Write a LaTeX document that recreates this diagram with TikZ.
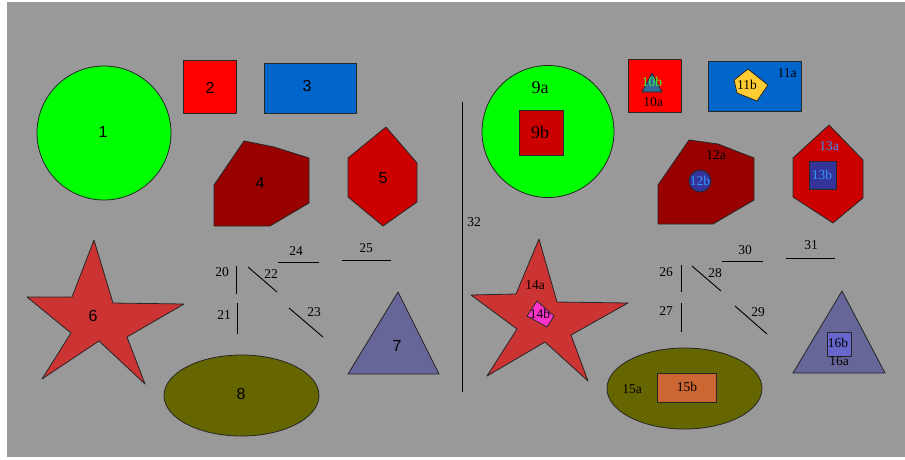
\documentclass[tikz,border=0pt]{standalone}
\usepackage{fontspec}
\setmainfont{Liberation Serif}
\newfontfamily\sansf{Liberation Sans}
\definecolor{bg}{HTML}{999999}
\definecolor{plime}{HTML}{00FF00}
\definecolor{pred}{HTML}{FF0000}
\definecolor{pblue}{HTML}{0066CC}
\definecolor{dred}{HTML}{990000}
\definecolor{mred}{HTML}{CC0000}
\definecolor{sred}{HTML}{CC3333}
\definecolor{slate}{HTML}{666699}
\definecolor{olive}{HTML}{666600}
\definecolor{steel}{HTML}{336699}
\definecolor{gold}{HTML}{FFCC33}
\definecolor{navy}{HTML}{333399}
\definecolor{sky}{HTML}{3399FF}
\definecolor{pink}{HTML}{FF33CC}
\definecolor{rust}{HTML}{CC6633}
\definecolor{lav}{HTML}{6666CC}
\definecolor{tgreen}{HTML}{33FF33}
\begin{document}
\begin{tikzpicture}[x=1pt,y=-1pt,
  shp/.style={draw=black!85, line width=0.8pt, line join=round},
  ln/.style={draw=black, line width=0.9pt},
  bl/.style={font=\sansf\fontsize{16}{16}\selectfont, inner sep=0pt},
  sl/.style={font=\fontsize{13.5}{13.5}\selectfont, inner sep=0pt},
  ml/.style={font=\fontsize{18}{18}\selectfont, inner sep=0pt}]
\useasboundingbox (0,0) rectangle (905,459);
\fill[white] (0,0) rectangle (905,459);
\fill[bg] (7,2) rectangle (905,457);
% left half
\draw[shp, fill=plime] (104,133) circle[radius=67pt];
\node[bl] (l1) at (103,132) {1};
\draw[shp, fill=pred] (183,60) rectangle (236,113);
\node[bl] (l2) at (210,88) {2};
\draw[shp, fill=pblue] (264,63) rectangle (356,113);
\node[bl] (l3) at (307,86) {3};
\draw[shp, fill=dred] (244,141) -- (274,147) -- (309,158) -- (309,203) -- (270,226) -- (214,226) -- (214,185) -- cycle;
\node[bl] (l4) at (260,183) {4};
\draw[shp, fill=mred] (386,127) -- (417,163) -- (417,202) -- (383,226) -- (348,197) -- (348,158) -- cycle;
\node[bl] (l5) at (383,178) {5};
\draw[shp, fill=sred] (94,240) -- (113,303) -- (184,304) -- (127,337) -- (145,384) -- (99,341) -- (42,379) -- (71,333) -- (27,297) -- (72,297) -- cycle;
\node[bl] (l6) at (93,316) {6};
\draw[shp, fill=slate] (398,292) -- (439,374) -- (348,374) -- cycle;
\node[bl] (l7) at (397,346) {7};
\draw[shp, fill=olive] (241.5,395.5) ellipse[x radius=77.5pt, y radius=40.5pt];
\node[bl] (l8) at (241,394) {8};
% lines left
\coordinate (a20) at (236,266); \coordinate (b20) at (236,294);
\draw[ln] (a20) -- (b20); \node[sl] (t20) at (222,272) {20};
\coordinate (a21) at (237,303); \coordinate (b21) at (237,334);
\draw[ln] (a21) -- (b21); \node[sl] (t21) at (224,315) {21};
\coordinate (a22) at (248,267); \coordinate (b22) at (277,292);
\draw[ln] (a22) -- (b22); \node[sl] (t22) at (271,274) {22};
\coordinate (a23) at (289,308); \coordinate (b23) at (323,337);
\draw[ln] (a23) -- (b23); \node[sl] (t23) at (314,312) {23};
\coordinate (a24) at (278,262); \coordinate (b24) at (319,262);
\draw[ln] (a24) -- (b24); \node[sl] (t24) at (296,251) {24};
\coordinate (a25) at (342,260); \coordinate (b25) at (391,260);
\draw[ln] (a25) -- (b25); \node[sl] (t25) at (366,248) {25};
% divider
\coordinate (a32) at (462,102); \coordinate (b32) at (462,392);
\draw[ln] (a32) -- (b32); \node[sl] (t32) at (474,222) {32};
% right half
\draw[shp, fill=plime] (548,131.5) circle[radius=66pt];
\node[ml] (t9a) at (540,88) {9a};
\draw[shp, fill=mred] (519,110) rectangle (563,155);
\node[ml] (t9b) at (540,132) {9b};
\draw[shp, fill=pred] (628,59) rectangle (681,112);
\draw[shp, fill=steel] (652,73) -- (662,92) -- (642,92) -- cycle;
\node[sl, text=tgreen] (t10b) at (652,82) {10b};
\node[sl] (t10a) at (653,102) {10a};
\draw[shp, fill=pblue] (708,61) rectangle (801,111);
\draw[shp, fill=gold] (748,69) -- (768,85) -- (757,101) -- (737,93) -- (734,80) -- cycle;
\node[sl] (t11b) at (747,85) {11b};
\node[sl] (t11a) at (787,73) {11a};
\draw[shp, fill=dred] (689,140) -- (718,144) -- (754,158) -- (754,200) -- (713,224) -- (658,224) -- (658,185) -- cycle;
\node[sl] (t12a) at (716,155) {12a};
\draw[shp, fill=navy] (700,181) circle[radius=11pt];
\node[sl, text=sky] (t12b) at (700,181) {12b};
\draw[shp, fill=mred] (829,125) -- (863,160) -- (863,198) -- (833,223) -- (793,197) -- (793,158) -- cycle;
\node[sl, text=sky] (t13a) at (829,146) {13a};
\draw[shp, fill=navy] (809,161) rectangle (836,189);
\node[sl, text=sky] (t13b) at (822,175) {13b};
\draw[shp, fill=sred] (539,239) -- (557,302) -- (628,303) -- (571,335) -- (588,381) -- (545,342) -- (487,376) -- (517,329) -- (471,295) -- (516,294) -- cycle;
\node[sl] (t14a) at (535,285) {14a};
\draw[shp, fill=pink] (537,301) -- (554,316) -- (547,327) -- (527,316) -- cycle;
\node[sl] (t14b) at (540,314) {14b};
\draw[shp, fill=olive] (684.5,388.5) ellipse[x radius=77.5pt, y radius=40.5pt];
\node[sl] (t15a) at (632,389) {15a};
\draw[shp, fill=rust] (657,373) rectangle (716,402);
\node[sl] (t15b) at (687,387) {15b};
\draw[shp, fill=slate] (842,291) -- (885,373) -- (793,373) -- cycle;
\draw[shp, fill=lav] (827,332) rectangle (851,356);
\node[sl] (t16b) at (838,343) {16b};
\node[sl] (t16a) at (839,361) {16a};
% lines right
\coordinate (a26) at (681,265); \coordinate (b26) at (681,292);
\draw[ln] (a26) -- (b26); \node[sl] (t26) at (666,272) {26};
\coordinate (a27) at (681,303); \coordinate (b27) at (681,332);
\draw[ln] (a27) -- (b27); \node[sl] (t27) at (666,311) {27};
\coordinate (a28) at (692,266); \coordinate (b28) at (721,291);
\draw[ln] (a28) -- (b28); \node[sl] (t28) at (715,273) {28};
\coordinate (a29) at (735,306); \coordinate (b29) at (767,334);
\draw[ln] (a29) -- (b29); \node[sl] (t29) at (758,312) {29};
\coordinate (a30) at (722,261); \coordinate (b30) at (763,261);
\draw[ln] (a30) -- (b30); \node[sl] (t30) at (745,250) {30};
\coordinate (a31) at (786,258); \coordinate (b31) at (835,258);
\draw[ln] (a31) -- (b31); \node[sl] (t31) at (811,245) {31};
\end{tikzpicture}
\end{document}
